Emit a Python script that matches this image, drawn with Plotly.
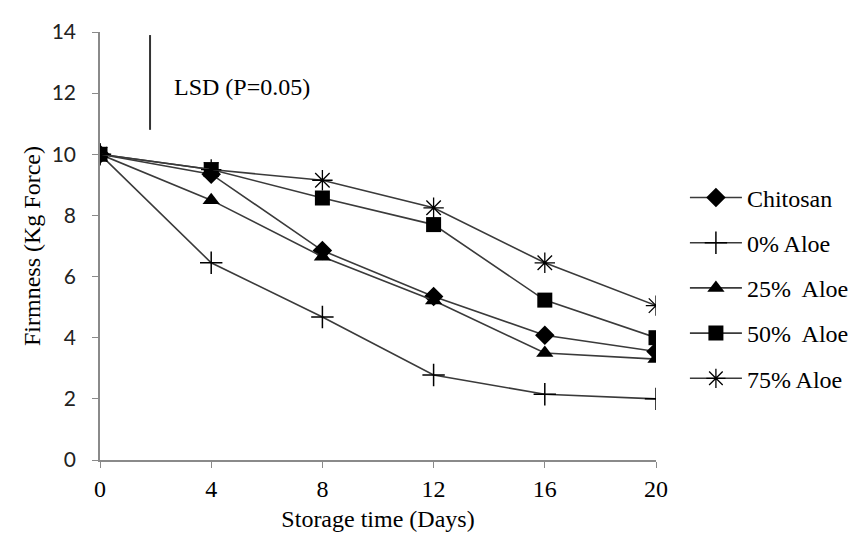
import plotly.graph_objects as go

days = [0, 4, 8, 12, 16, 20]
chitosan = [10.0, 9.35, 6.85, 5.35, 4.08, 3.55]
aloe0 = [10.0, 6.45, 4.68, 2.78, 2.15, 2.0]
aloe25 = [10.0, 8.5, 6.65, 5.22, 3.5, 3.3]
aloe50 = [10.0, 9.5, 8.57, 7.7, 5.23, 4.0]
aloe75 = [10.0, 9.5, 9.15, 8.25, 6.45, 5.05]
series_names = ["Chitosan", "0% Aloe", "25%  Aloe", "50%  Aloe", "75% Aloe"]
lsd_x = [1.8, 1.8]
lsd_y = [10.8, 13.9]
lsd_label = "LSD (P=0.05)"
x_ticks = [0, 4, 8, 12, 16, 20]
y_ticks = [0, 2, 4, 6, 8, 10, 12, 14]

serif = "Liberation Serif"
line_col = "#3a3a3a"

fig = go.Figure()
specs = [
    (chitosan, "diamond", 15, None),
    (aloe0, "cross-thin-open", 16, 1.5),
    (aloe25, "triangle-up", 15, None),
    (aloe50, "square", 15, None),
    (aloe75, "asterisk-open", 17, 1.3),
]
for i, (vals, sym, size, lw) in enumerate(specs):
    marker = dict(symbol=sym, size=size, color="black")
    if lw:
        marker["line"] = dict(color="#222", width=lw)
    fig.add_trace(go.Scatter(
        x=days, y=vals, mode="lines+markers", name=series_names[i],
        legendgroup=str(i),
        line=dict(color=line_col, width=1.6), marker=marker,
    ))

fig.add_trace(go.Scatter(
    x=lsd_x, y=lsd_y, mode="lines", showlegend=False,
    line=dict(color="#333", width=2), hoverinfo="skip",
))
fig.add_annotation(x=2.6, y=12.2, text=lsd_label, showarrow=False,
                   xanchor="left", yanchor="middle",
                   font=dict(family=serif, size=24, color="black"))

fig.update_layout(
    width=865, height=535,
    margin=dict(l=92, r=217, t=24, b=83, autoexpand=False),
    plot_bgcolor="white", paper_bgcolor="white",
    font=dict(family=serif, color="black"),
    legend=dict(x=1.052, y=0.665, xanchor="left", yanchor="top",
                font=dict(family=serif, size=24, color="black"),
                tracegroupgap=11, itemwidth=52, bgcolor="rgba(0,0,0,0)"),
    showlegend=True,
)
fig.update_xaxes(
    range=[0, 20], tickvals=x_ticks, showgrid=False, zeroline=False,
    showline=True, linecolor="#8a8a8a", linewidth=1.5,
    ticks="outside", ticklen=6, tickcolor="#8a8a8a",
    tickfont=dict(family=serif, size=24, color="black"),
    automargin=False,
    title=dict(text="Storage time (Days)", font=dict(family=serif, size=24), standoff=10),
)
fig.update_yaxes(
    range=[0, 14], tickvals=y_ticks, showgrid=False, zeroline=False,
    showline=True, linecolor="#8a8a8a", linewidth=1.5,
    ticks="outside", ticklen=6, tickcolor="#8a8a8a",
    tickfont=dict(family="Lato", size=21, color="#222"),
    ticklabelstandoff=12, automargin=False,
    title=dict(text="Firmness (Kg Force)", font=dict(family=serif, size=24), standoff=4),
)

fig.write_html("out.html")
